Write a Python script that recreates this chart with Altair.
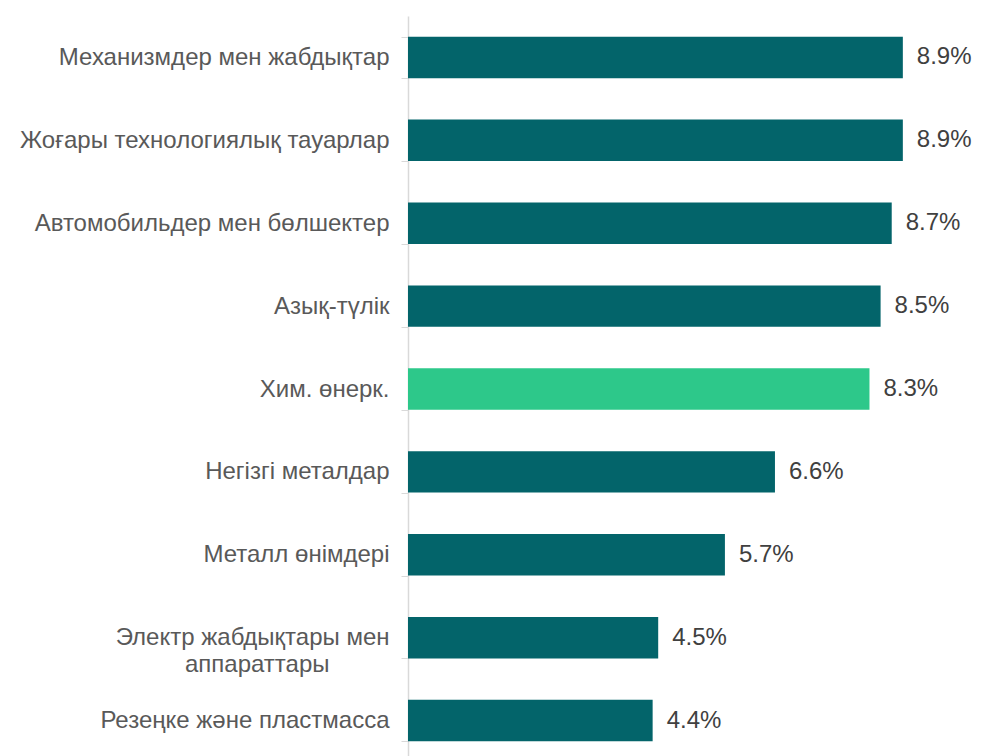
import altair as alt
import pandas as pd

PAD = "\u00a0" * 9 + "\u200b"
categories = [
    "Механизмдер мен жабдықтар",
    "Жоғары технологиялық тауарлар",
    "Автомобильдер мен бөлшектер",
    "Азық-түлік",
    "Хим. өнерк.",
    "Негізгі металдар",
    "Металл өнімдері",
    "Электр жабдықтары мен|аппараттары" + PAD,
    "Резеңке және пластмасса",
]
values = [8.9, 8.9, 8.7, 8.5, 8.3, 6.6, 5.7, 4.5, 4.4]
labels = ["8.9%", "8.9%", "8.7%", "8.5%", "8.3%", "6.6%", "5.7%", "4.5%", "4.4%"]
highlight = [False, False, False, False, True, False, False, False, False]

df = pd.DataFrame({"cat": categories, "val": values, "lab": labels, "hl": highlight})

y = alt.Y(
    "cat:N",
    sort=categories,
    title=None,
    scale=alt.Scale(paddingInner=0.5, paddingOuter=0.25),
    axis=alt.Axis(
        labelExpr="split(datum.label, '|')",
        labelFont="Liberation Sans",
        labelFontSize=24,
        labelColor="#595959",
        labelPadding=12,
        labelLimit=600,
        labelLineHeight=27,
        tickSize=7,
        tickColor="#d9d9d9",
        tickBand="extent",
        domainColor="#d9d9d9",
        domainWidth=1.5,
        grid=False,
    ),
)
x = alt.X("val:Q", scale=alt.Scale(domain=[0, 10]), axis=None)

bars = alt.Chart(df).mark_bar().encode(
    y=y,
    x=x,
    color=alt.Color(
        "hl:N",
        scale=alt.Scale(domain=[False, True], range=["#03646A", "#2DC88A"]),
        legend=None,
    ),
)
text = alt.Chart(df).mark_text(
    align="left", dx=14, font="Liberation Sans", fontSize=24, color="#404040"
).encode(y=alt.Y("cat:N", sort=categories), x=x, text="lab:N")

chart = (
    (bars + text)
    .properties(
        width=556,
        height=746,
        autosize=alt.AutoSizeParams(type="none"),
        padding={"left": 400, "top": 8, "right": 9, "bottom": 5},
    )
    .configure_view(stroke=None)
)
chart.save("out.html", embed_options={"renderer": "svg", "actions": False})
